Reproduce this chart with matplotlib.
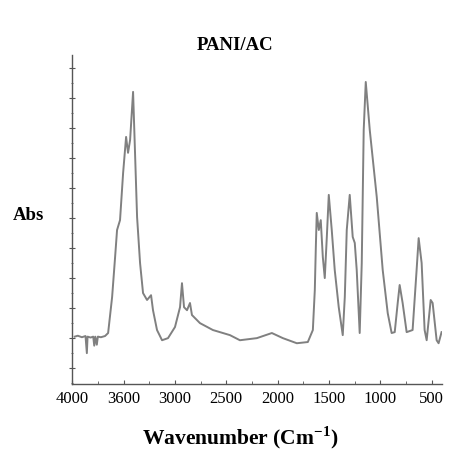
import matplotlib
matplotlib.use("Agg")
import matplotlib.pyplot as plt
from matplotlib.ticker import MultipleLocator

# FTIR spectrum of PANI/AC
wavenumber = [3975, 3945, 3905, 3870, 3857, 3850, 3820, 3795, 3785, 3775,
              3760, 3750, 3720, 3680, 3650, 3611, 3582, 3563, 3534, 3504,
              3475, 3456, 3436, 3407, 3388, 3368, 3339, 3310, 3271, 3232,
              3213, 3174, 3125, 3067, 2999, 2950, 2931, 2911, 2882, 2853,
              2834, 2756, 2630, 2464, 2367, 2202, 2056, 1949, 1813, 1706,
              1657, 1638, 1628, 1619, 1599, 1580, 1560, 1541, 1521, 1502,
              1473, 1444, 1405, 1366, 1346, 1327, 1298, 1269, 1249, 1230,
              1201, 1181, 1162, 1142, 1103, 1035, 977, 928, 890, 860,
              831, 812, 783, 744, 686, 647, 627, 598, 569, 549,
              510, 491, 452, 433, 404]
absorbance = [1.05, 1.08, 1.03, 1.07, 0.50, 1.05, 1.02, 1.05, 0.75, 1.05,
              0.78, 1.05, 1.03, 1.07, 1.17, 2.37, 3.70, 4.60, 4.93, 6.50,
              7.70, 7.17, 7.60, 9.20, 7.17, 5.03, 3.50, 2.50, 2.27, 2.43,
              1.93, 1.27, 0.93, 1.00, 1.37, 2.03, 2.83, 2.03, 1.93, 2.17,
              1.77, 1.50, 1.27, 1.10, 0.93, 1.00, 1.17, 1.00, 0.83, 0.87,
              1.27, 2.60, 4.03, 5.17, 4.60, 4.93, 3.70, 3.00, 4.37, 5.77,
              4.60, 3.27, 2.03, 1.10, 2.37, 4.60, 5.77, 4.37, 4.17, 3.27,
              1.17, 3.50, 7.93, 9.53, 7.93, 5.70, 3.27, 1.83, 1.17, 1.20,
              2.17, 2.77, 2.17, 1.20, 1.27, 3.27, 4.33, 3.50, 1.27, 0.93,
              2.27, 2.17, 0.93, 0.83, 1.20]

x_ticks = [4000, 3500, 3000, 2500, 2000, 1500, 1000, 500]
x_tick_labels = ["4000", "3600", "3000", "2500", "2000", "1500", "1000", "500"]

plt.rcParams["font.family"] = ["Liberation Serif", "DejaVu Serif"]
plt.rcParams["mathtext.fontset"] = "custom"
plt.rcParams["mathtext.rm"] = "Liberation Serif"
plt.rcParams["mathtext.bf"] = "Liberation Serif:bold"

fig = plt.figure(figsize=(4.51, 4.54), dpi=100)
ax = fig.add_axes([0.160, 0.154, 0.820, 0.725])

ax.plot(wavenumber, absorbance, color="#808080", lw=1.4)

ax.set_xlim(4000, 400)
ax.set_ylim(-0.53, 10.43)
ax.set_xticks(x_ticks)
ax.set_xticklabels(x_tick_labels, fontsize=12)
ax.xaxis.set_minor_locator(MultipleLocator(250))
ax.yaxis.set_major_locator(MultipleLocator(1))
ax.yaxis.set_minor_locator(MultipleLocator(0.5))
ax.set_yticklabels([])

for s in ["top", "right"]:
    ax.spines[s].set_visible(False)
for s in ["left", "bottom"]:
    ax.spines[s].set_color("#555555")
    ax.spines[s].set_linewidth(1.0)

ax.tick_params(axis="x", which="major", direction="in", length=3, color="#555555", pad=5)
ax.tick_params(axis="x", which="minor", direction="in", length=2, color="#555555")
ax.tick_params(axis="y", which="major", direction="inout", length=4, color="#555555")
ax.tick_params(axis="y", which="minor", direction="inout", length=2, color="#555555")

fig.text(0.521, 0.900, "PANI/AC", fontsize=13.5, fontweight="bold", ha="center", va="center")
fig.text(0.064, 0.526, "Abs", fontsize=13.5, fontweight="bold", ha="center", va="center")
fig.text(0.532, 0.035, r"Wavenumber (Cm$^{\mathbf{-1}}$)", fontsize=15.5, fontweight="bold",
         ha="center", va="center")

fig.savefig("out.png", dpi=100)
